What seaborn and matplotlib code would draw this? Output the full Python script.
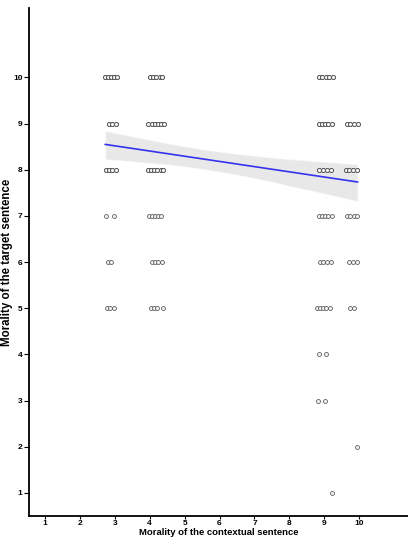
import numpy as np
import pandas as pd
import matplotlib
matplotlib.use("Agg")
import matplotlib.pyplot as plt
import seaborn as sns

# points
# each cluster row: x positions of visible points, y value, overlap count per point
context = [
    # x ~ 3
    [2.72, 2.80, 2.89, 2.98, 3.07], [2.84, 2.93, 3.04], [2.75, 2.84, 2.93, 3.04],
    [2.75, 2.98], [2.81, 2.90], [2.78, 2.87, 2.98],
    # x ~ 4
    [4.02, 4.10, 4.19, 4.28, 4.36], [3.96, 4.07, 4.16, 4.25, 4.33, 4.42],
    [3.96, 4.05, 4.13, 4.22, 4.31, 4.39], [3.99, 4.07, 4.16, 4.25, 4.33],
    [4.07, 4.16, 4.25, 4.36], [4.05, 4.13, 4.22, 4.39],
    # x ~ 9
    [8.85, 8.93, 9.05, 9.13, 9.25], [8.85, 8.93, 9.02, 9.10, 9.22],
    [8.85, 8.96, 9.08, 9.19], [8.85, 8.93, 9.02, 9.10, 9.22],
    [8.88, 8.96, 9.08, 9.19], [8.79, 8.88, 8.96, 9.05, 9.16],
    [8.85, 9.05], [8.82, 9.02], [9.21],
    # x ~ 10
    [9.64, 9.73, 9.84, 9.96], [9.61, 9.70, 9.82, 9.93],
    [9.64, 9.73, 9.84, 9.93], [9.70, 9.82, 9.93], [9.73, 9.84], [9.93],
]
target = [10, 9, 8, 7, 6, 5,
          10, 9, 8, 7, 6, 5,
          10, 9, 8, 7, 6, 5, 4, 3, 1,
          9, 8, 7, 6, 5, 2]
overlap = [3, 3, 3, 1, 1, 1,
           3, 3, 3, 1, 1, 1,
           3, 3, 3, 1, 1, 1, 1, 1, 1,
           3, 3, 1, 1, 1, 1]

rows = []
for xs, y, n in zip(context, target, overlap):
    for x in xs:
        rows += [(x, y)] * n
df = pd.DataFrame(rows, columns=["context", "target"])

sns.set_style("white")
plt.rcParams["font.family"] = ["Liberation Sans", "DejaVu Sans"]
plt.rcParams["text.color"] = "black"
plt.rcParams["axes.labelcolor"] = "black"
plt.rcParams["xtick.color"] = "black"
plt.rcParams["ytick.color"] = "black"

fig = plt.figure(figsize=(4.08, 5.37), dpi=100)
ax = fig.add_axes([0.071, 0.039, 0.929, 0.946])

sns.scatterplot(data=df, x="context", y="target", ax=ax, marker="o", s=8,
                facecolor="#f4f4f4", edgecolor="#505050", linewidth=0.55, zorder=3)
sns.regplot(data=df, x="context", y="target", ax=ax, scatter=False, ci=95,
            color="#3333ee", line_kws={"linewidth": 1.2, "zorder": 4}, n_boot=2000, seed=1)
ax.collections[-1].set_facecolor("#d9d9d9")
ax.collections[-1].set_alpha(0.6)

ax.set_xlim(0.54, 11.4)
ax.set_ylim(0.5, 11.5)
ax.set_xticks(range(1, 11))
ax.set_yticks(range(1, 11))
ax.tick_params(axis="both", labelsize=6, width=0.8, color="black", labelcolor="black",
               direction="out", bottom=True, left=True)
ax.tick_params(axis="x", pad=0.5, length=2.5)
ax.tick_params(axis="y", pad=1.2, length=3.5)
for lab in ax.get_xticklabels() + ax.get_yticklabels():
    lab.set_fontweight("bold")
ax.set_xlabel("Morality of the contextual sentence", fontsize=6.8, fontweight="bold",
              labelpad=0.5, color="black")
ax.set_ylabel("Morality of the target sentence", fontsize=8.3, fontweight="bold",
              labelpad=0, color="black")
for s in ["top", "right"]:
    ax.spines[s].set_visible(False)
for s in ["left", "bottom"]:
    ax.spines[s].set_color("black")
    ax.spines[s].set_linewidth(1.3)
ax.grid(False)

fig.savefig("out.png", dpi=100)
